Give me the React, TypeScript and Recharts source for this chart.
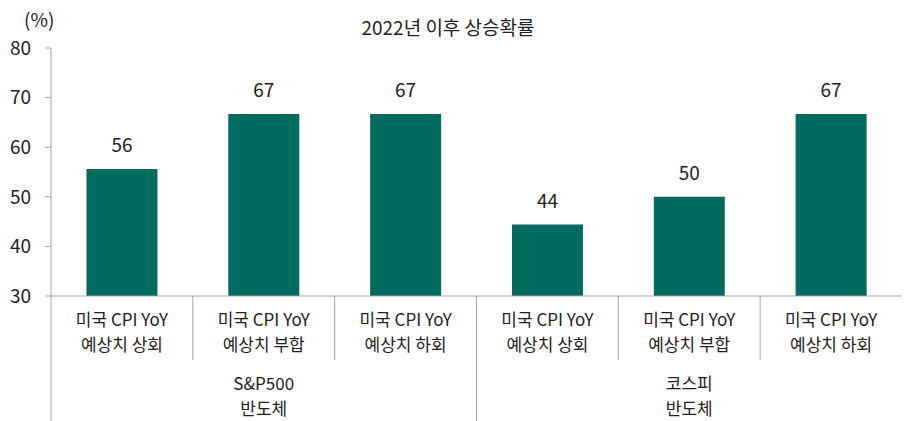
import React from 'react';
import { BarChart, Bar, XAxis, YAxis, LabelList } from 'recharts';

const cpiLabels = ['미국 CPI YoY', '미국 CPI YoY', '미국 CPI YoY', '미국 CPI YoY', '미국 CPI YoY', '미국 CPI YoY'];
const outcomeLabels = ['예상치 상회', '예상치 부합', '예상치 하회', '예상치 상회', '예상치 부합', '예상치 하회'];
const groupLine1 = ['S&P500', '코스피'];
const groupLine2 = ['반도체', '반도체'];
const values = [55.6, 66.7, 66.7, 44.4, 50.0, 66.7];
const valueLabels = ['56', '67', '67', '44', '50', '67'];
const yTicks = [30, 40, 50, 60, 70, 80];

const data = values.map((v, i) => ({
  key: `c${i}`,
  value: v,
  label: valueLabels[i],
  idx: i,
}));

const W = 904;
const H = 421;
const MARGIN = { top: 48, right: 2, left: 0, bottom: 0 };
const Y_WIDTH = 51;
const X_HEIGHT = 125;
const PLOT_W = W - MARGIN.left - MARGIN.right - Y_WIDTH;
const BAND = PLOT_W / values.length;
const FONT = '"Noto Sans CJK KR", "Noto Sans", sans-serif';
const TEXT = '#222222';
const AXIS = '#A6A6A6';
const BAR = '#006B5F';
const FS = 19;
const XFS = 17;
const LINE = 25;

const CategoryTick = (props: any) => {
  const { x, y, index } = props;
  const leftX = x - BAND / 2;
  const groupStart = index % 3 === 0;
  const groupMid = index % 3 === 1;
  const g = Math.floor(index / 3);
  return (
    <g>
      <line x1={leftX} x2={leftX} y1={y} y2={groupStart ? y + X_HEIGHT : y + 64} stroke={AXIS} strokeWidth={1} />
      <text x={x} y={y + 30} textAnchor="middle" fill={TEXT} fontSize={XFS} fontFamily={FONT}>{cpiLabels[index]}</text>
      <text x={x} y={y + 30 + LINE} textAnchor="middle" fill={TEXT} fontSize={XFS} fontFamily={FONT}>{outcomeLabels[index]}</text>
      {groupMid && (
        <>
          <text x={x} y={y + 94} textAnchor="middle" fill={TEXT} fontSize={XFS} fontFamily={FONT}>{groupLine1[g]}</text>
          <text x={x} y={y + 94 + LINE} textAnchor="middle" fill={TEXT} fontSize={XFS} fontFamily={FONT}>{groupLine2[g]}</text>
        </>
      )}
    </g>
  );
};

export default function App() {
  return (
    <div style={{ position: 'absolute', left: 0, top: 0, width: W, height: H, background: '#fff', fontFamily: FONT }}>
      <div style={{ position: 'absolute', left: 0, top: 14, width: 896, textAlign: 'center', fontSize: FS, color: TEXT, lineHeight: '26px' }}>
        2022년 이후 상승확률
      </div>
      <div style={{ position: 'absolute', left: 24, top: 6, fontSize: FS, color: TEXT, lineHeight: '26px' }}>
        (%)
      </div>
      <BarChart width={W} height={H} data={data} margin={MARGIN} barCategoryGap="25%">
        <XAxis
          dataKey="key"
          height={X_HEIGHT}
          interval={0}
          tickSize={0}
          tickMargin={0}
          tickLine={false}
          axisLine={{ stroke: AXIS, strokeWidth: 1 }}
          tick={<CategoryTick />}
        />
        <YAxis
          width={Y_WIDTH}
          domain={[30, 80]}
          ticks={yTicks}
          allowDataOverflow
          interval={0}
          tickSize={6}
          tickMargin={14}
          axisLine={{ stroke: AXIS, strokeWidth: 1 }}
          tickLine={{ stroke: AXIS }}
          tick={{ fill: TEXT, fontSize: FS, fontFamily: FONT }}
        />
        <Bar dataKey="value" fill={BAR} isAnimationActive={false}>
          <LabelList dataKey="label" position="top" offset={17} fill={TEXT} fontSize={FS} fontFamily={FONT} />
        </Bar>
      </BarChart>
    </div>
  );
}
